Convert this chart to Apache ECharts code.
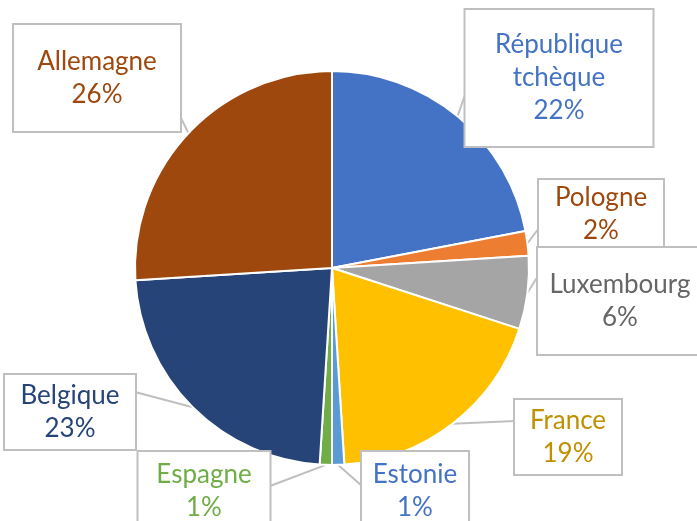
<!DOCTYPE html>
<html>
<head>
<meta charset="utf-8">
<script src="https://cdn.jsdelivr.net/npm/echarts@6/dist/echarts.min.js"></script>
<style>
    html, body {margin: 0; padding: 0; background: #fff;}
    #pays_pie {width: 697px; height: 521px;}
</style>
</head>
<body>
<div id="pays_pie"></div>
<script>
// données
const pays = ['République tchèque', 'Pologne', 'Luxembourg', 'France', 'Estonie', 'Espagne', 'Belgique', 'Allemagne'];
const parts = [22, 2, 6, 19, 1, 1, 23, 26];

const couleurs = ['#4472C4', '#ED7D31', '#A5A5A5', '#FFC000', '#5B9BD5', '#70AD47', '#264478', '#9E480E'];
const couleursTexte = ['#4472C4', '#9E480E', '#666666', '#BF9000', '#4472C4', '#70AD47', '#264478', '#9E480E'];

// boîtes des étiquettes : centre x, centre y, largeur, hauteur
const boites = [
    [559, 78, 187, 136],
    [601, 214, 124, 68],
    [620, 301, 164, 106],
    [568, 437, 106, 74],
    [415, 491, 106, 78],
    [204, 491, 131, 78],
    [70, 412, 130, 74],
    [97, 78, 166, 106]
];
// point d'accroche de la bulle sur la boîte
const ancres = [
    [466, 92], [539, 228], [538, 276], [515, 421],
    [362, 486], [270, 486], [135, 392], [180, 116]
];

const hauteurLigne = 33;

const data = pays.map((nom, i) => {
    const b = boites[i];
    const lignes = nom.split(' ').length + 1;
    const pad = Math.max(0, (b[3] - lignes * hauteurLigne) / 2);
    return {
        name: nom,
        value: parts[i],
        itemStyle: {color: couleurs[i]},
        label: {
            color: couleursTexte[i],
            width: b[2],
            padding: [pad, 0, pad, 0]
        }
    };
});

const option = {
    animation: false,
    series: [
        {
            type: 'pie',
            center: [332, 268],
            radius: 197,
            startAngle: 90,
            percentPrecision: 0,
            data: data,
            itemStyle: {
                borderColor: '#fff',
                borderWidth: 2
            },
            label: {
                show: true,
                position: 'outside',
                formatter: p => p.name.replace(' ', '\n') + '\n' + p.percent + '%',
                fontFamily: 'Lato',
                fontSize: 26,
                lineHeight: hauteurLigne,
                align: 'center',
                backgroundColor: '#fff',
                borderColor: '#BFBFBF',
                borderWidth: 2
            },
            labelLine: {
                show: true,
                length: 0,
                length2: 0,
                lineStyle: {
                    color: '#BFBFBF',
                    width: 2
                }
            },
            labelLayout: function (params) {
                const i = params.dataIndex;
                const b = boites[i];
                const res = {
                    x: b[0],
                    y: b[1],
                    align: 'center',
                    verticalAlign: 'middle'
                };
                const pts = params.labelLinePoints;
                if (pts) {
                    const p0 = pts[0];
                    res.labelLinePoints = [p0, p0, ancres[i]];
                }
                return res;
            }
        }
    ]
};

let paysPie = echarts.init(document.getElementById('pays_pie'));
paysPie.setOption(option);

window.addEventListener('resize', function () {
    paysPie.resize();
});
</script>
</body>
</html>
